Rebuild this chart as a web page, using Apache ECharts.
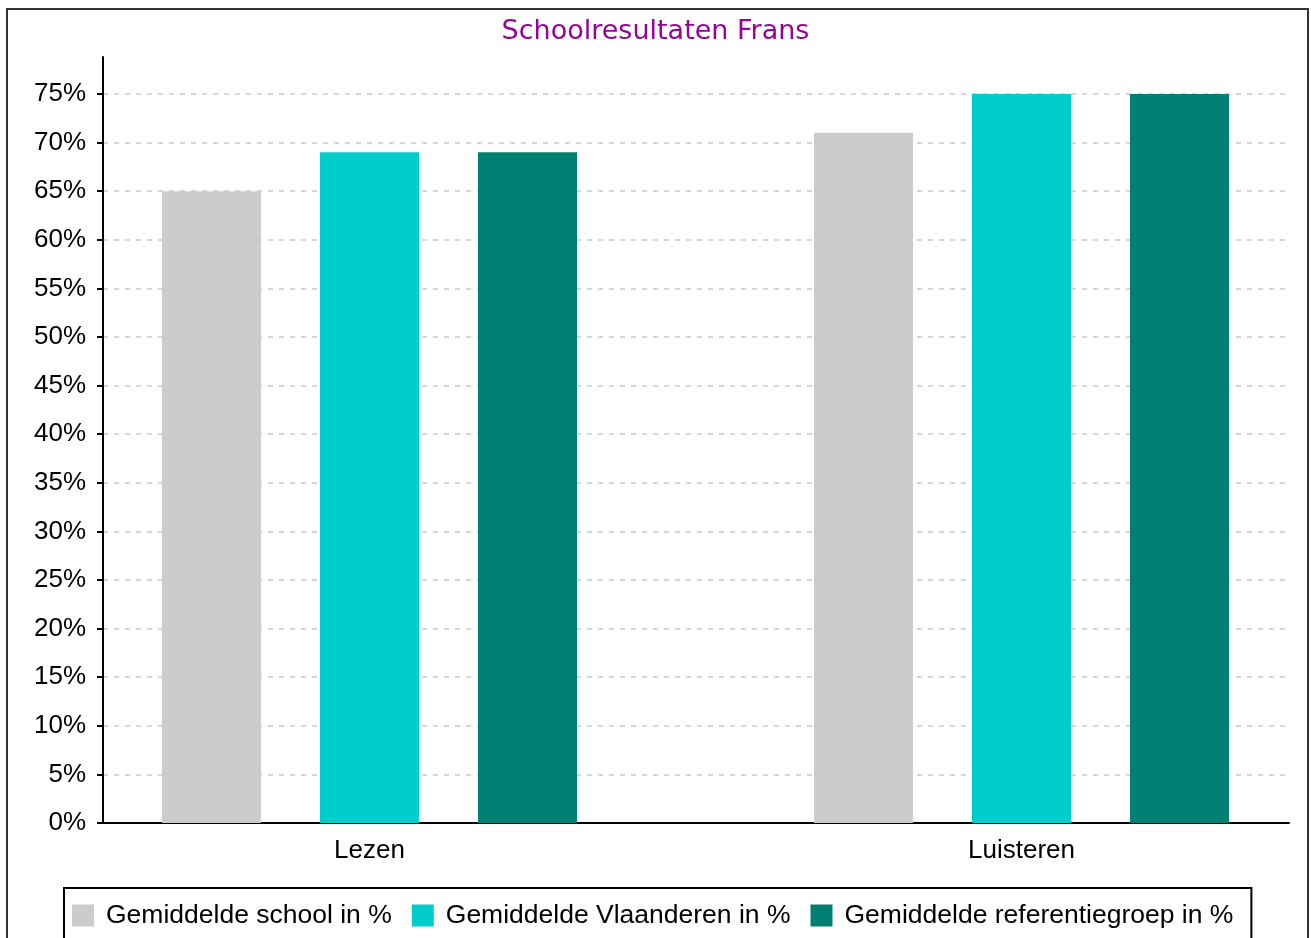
<!DOCTYPE html>
<html>
<head>
<meta charset="utf-8">
<script src="https://cdn.jsdelivr.net/npm/echarts@6/dist/echarts.min.js"></script>
<style>
  html, body { margin: 0; padding: 0; background: #fff; }
  #chart { width: 1311px; height: 938px; }
</style>
</head>
<body>
<div id="chart"></div>
<script>
var categories = ['Lezen', 'Luisteren'];
var seriesNames = ['Gemiddelde school in %', 'Gemiddelde Vlaanderen in %', 'Gemiddelde referentiegroep in %'];
var schoolValues = [65, 71];
var vlaanderenValues = [69, 75];
var referentieValues = [69, 75];
var yTicks = [0, 5, 10, 15, 20, 25, 30, 35, 40, 45, 50, 55, 60, 65, 70, 75];
var colors = ['#cccccc', '#00cccc', '#008073'];

var yMax = 78.8;
var labelFont = 'Liberation Sans, Arial, sans-serif';

var myChart = echarts.init(document.getElementById('chart'));

var option = {
  animation: false,
  color: colors,
  title: {
    text: 'Schoolresultaten Frans',
    left: 'center',
    top: 13,
    textStyle: {
      color: '#990099',
      fontFamily: 'DejaVu Sans, Verdana, sans-serif',
      fontSize: 27,
      fontWeight: 'normal',
    },
  },
  graphic: [{
    type: 'rect',
    shape: { x: 7, y: 9, width: 1301, height: 960 },
    style: { fill: 'none', stroke: '#333', lineWidth: 2 },
    silent: true,
  }],
  legend: {
    left: 64,
    top: 888,
    orient: 'horizontal',
    itemWidth: 22,
    itemHeight: 22,
    itemGap: 20,
    padding: [14, 18, 14, 8],
    backgroundColor: '#fff',
    borderColor: '#000',
    borderWidth: 2,
    icon: 'rect',
    textStyle: {
      color: '#000',
      fontFamily: labelFont,
      fontSize: 26.5,
      padding: [0, 0, 0, 7],
    },
    data: seriesNames,
  },
  grid: [
    // axes grid
    { left: 103, top: 57, width: 1186, height: 766 },
    // bars grid (category centers wider than the axis)
    { left: 43.5, top: 57, width: 1304, height: 766, outerBoundsMode: 'none' },
  ],
  xAxis: [{
    gridIndex: 0,
    type: 'value',
    min: 0,
    max: 1,
    axisLine: { show: true, onZero: false, lineStyle: { color: '#000', width: 2 } },
    axisTick: { show: false },
    axisLabel: { show: false },
    splitLine: { show: false },
  }, {
    gridIndex: 1,
    type: 'category',
    data: categories,
    axisLine: { show: false },
    axisTick: { show: false },
    axisLabel: {
      color: '#000',
      fontFamily: labelFont,
      fontSize: 26,
      margin: 15,
    },
  }],
  yAxis: [{
    gridIndex: 0,
    type: 'value',
    min: 0,
    max: yMax,
    interval: 5,
    axisLine: { show: true, lineStyle: { color: '#000', width: 2 } },
    axisTick: {
      show: true,
      length: 6,
      customValues: yTicks,
      lineStyle: { color: '#000', width: 2 },
    },
    axisLabel: {
      customValues: yTicks,
      color: '#000',
      fontFamily: labelFont,
      fontSize: 26,
      margin: 17,
      formatter: '{value}%',
    },
    splitLine: {
      show: true,
      lineStyle: { color: '#c8c8c8', type: [5, 6], width: 1.5 },
    },
  }, {
    gridIndex: 1,
    type: 'value',
    min: 0,
    max: yMax,
    show: false,
  }],
  series: [{
    name: seriesNames[0],
    type: 'bar',
    xAxisIndex: 1,
    yAxisIndex: 1,
    barWidth: 99,
    barGap: '59.6%',
    data: schoolValues,
  }, {
    name: seriesNames[1],
    type: 'bar',
    xAxisIndex: 1,
    yAxisIndex: 1,
    barWidth: 99,
    barGap: '59.6%',
    data: vlaanderenValues,
  }, {
    name: seriesNames[2],
    type: 'bar',
    xAxisIndex: 1,
    yAxisIndex: 1,
    barWidth: 99,
    barGap: '59.6%',
    data: referentieValues,
  }],
};

myChart.setOption(option);
</script>
</body>
</html>
